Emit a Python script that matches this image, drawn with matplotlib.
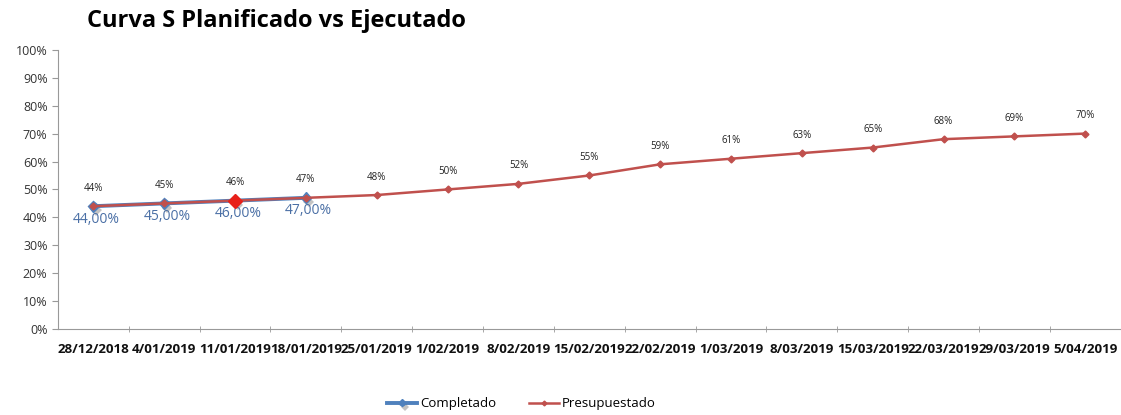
import matplotlib
matplotlib.use('Agg')
import matplotlib.pyplot as plt
import matplotlib.patheffects as pe
from matplotlib.ticker import FixedLocator, PercentFormatter

# datos
fechas = ['28/12/2018', '4/01/2019', '11/01/2019', '18/01/2019', '25/01/2019',
          '1/02/2019', '8/02/2019', '15/02/2019', '22/02/2019', '1/03/2019',
          '8/03/2019', '15/03/2019', '22/03/2019', '29/03/2019', '5/04/2019']
presupuestado = [44, 45, 46, 47, 48, 50, 52, 55, 59, 61, 63, 65, 68, 69, 70]
completado = [44, 45, 46, 47]

plt.rcParams['font.family'] = ['Open Sans', 'DejaVu Sans']

fig = plt.figure(figsize=(11.21, 4.15), dpi=100)
ax = fig.add_axes([0.0517, 0.207, 0.948, 0.673])

x = list(range(len(fechas)))
xc = x[:len(completado)]

shadow = [pe.SimplePatchShadow(offset=(2, -3), shadow_rgbFace='#555555', alpha=0.35), pe.Normal()]
ax.plot(xc, completado, color='#4f81bd', lw=2.8, marker='D', ms=5.5,
        mfc='#4f81bd', mec='#4f81bd', label='Completado', zorder=3,
        path_effects=shadow)
ax.plot(x, presupuestado, color='#c0504d', lw=1.8, marker='D', ms=3.5,
        mfc='#c0504d', mec='#c0504d', label='Presupuestado', zorder=4)
# punto resaltado
ax.plot(xc[2], completado[2], marker='D', ms=7, color='#e8201a', zorder=5)

for i, v in enumerate(presupuestado):
    ax.annotate(f'{v}%', (i, v), xytext=(0, 9), textcoords='offset points',
                ha='center', va='bottom', fontsize=7, color='#222222')
for i, v in enumerate(completado):
    ax.annotate(f'{v},00%', (i, v), xytext=(2, -4), textcoords='offset points',
                ha='center', va='top', fontsize=10, color='#4a6fa5')

ax.set_xlim(-0.5, len(fechas) - 0.5)
ax.set_ylim(0, 100)
ax.yaxis.set_major_locator(FixedLocator(range(0, 101, 10)))
ax.yaxis.set_major_formatter(PercentFormatter(decimals=0))
ax.set_xticks(x)
ax.set_xticklabels(fechas, fontsize=9.6, fontweight='bold', color='#111111')
ax.xaxis.set_minor_locator(FixedLocator([i + 0.5 for i in x[:-1]]))
ax.tick_params(axis='x', which='major', length=0, pad=10)
ax.tick_params(axis='x', which='minor', length=5, direction='inout', color='#999999')
ax.tick_params(axis='y', labelsize=9, colors='#333333', length=4, color='#999999')

for s in ['top', 'right']:
    ax.spines[s].set_visible(False)
for s in ['left', 'bottom']:
    ax.spines[s].set_color('#999999')

fig.text(0.078, 0.95, 'Curva S Planificado vs Ejecutado', fontsize=17,
         fontweight='bold', ha='left', va='center')

fig.legend(loc='center', bbox_to_anchor=(0.465, 0.027), ncol=2, frameon=False,
           fontsize=9.5, handlelength=2.3, columnspacing=2.5, handletextpad=0.2,
           markerscale=0.7)

fig.savefig('out.png', dpi=100)
plt.close(fig)
